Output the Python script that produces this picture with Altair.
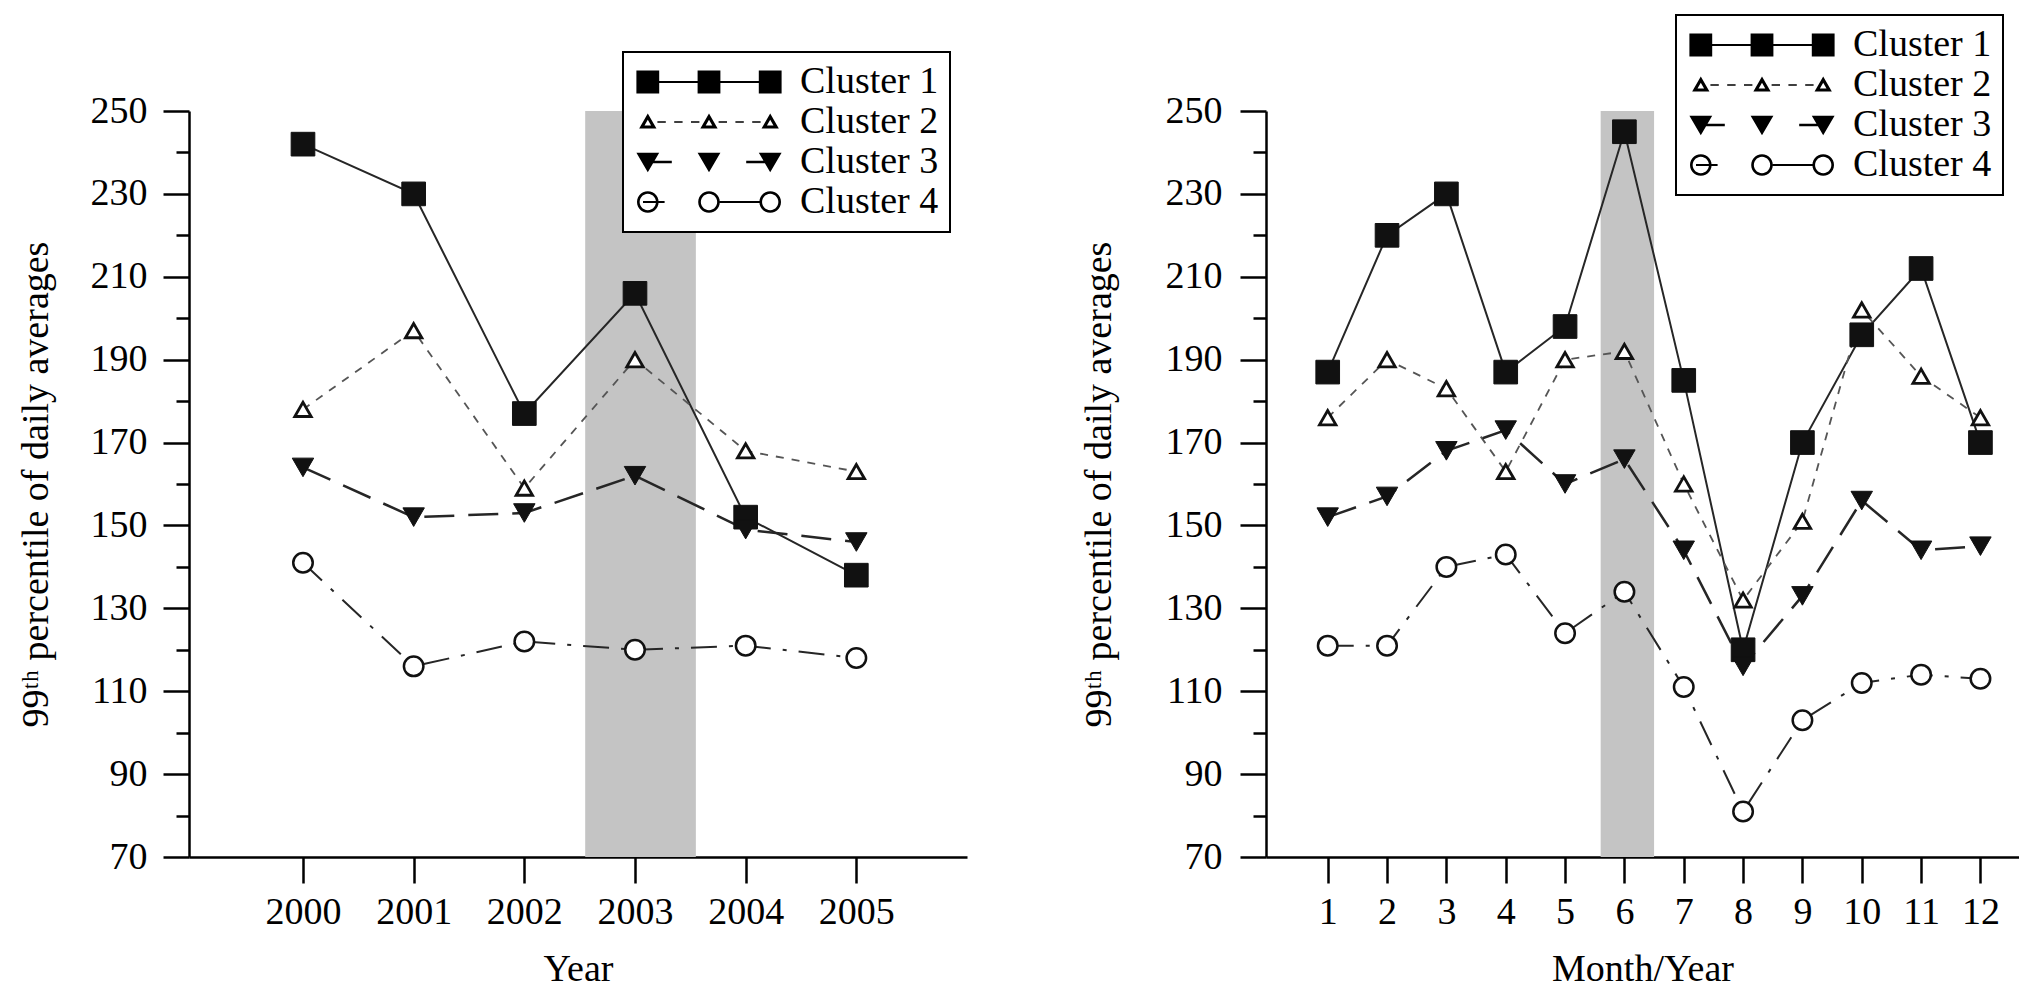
import math
import altair as alt
import pandas as pd

FONT = "Liberation Serif, Times New Roman, Tinos, Nimbus Roman, DejaVu Serif, serif"

# ---------------- data ----------------
clusters = ["Cluster 1", "Cluster 2", "Cluster 3", "Cluster 4"]

years = [2000, 2001, 2002, 2003, 2004, 2005]
year_c1 = [242, 230, 177, 206, 152, 138]
year_c2 = [178, 197, 159, 190, 168, 163]
year_c3 = [164, 152, 153, 162, 149, 146]
year_c4 = [141, 116, 122, 120, 121, 118]

months = [1, 2, 3, 4, 5, 6, 7, 8, 9, 10, 11, 12]
month_c1 = [187, 220, 230, 187, 198, 245, 185, 120, 170, 196, 212, 170]
month_c2 = [176, 190, 183, 163, 190, 192, 160, 132, 151, 202, 186, 176]
month_c3 = [152, 157, 168, 173, 160, 166, 144, 116, 133, 156, 144, 145]
month_c4 = [121, 121, 140, 143, 124, 134, 111, 81, 103, 112, 114, 113]

year_band = [2002.55, 2003.55]
month_band = [5.6, 6.5]
y_min, y_max = 70, 250
y_tick_values = list(range(70, 251, 10))

# ---------------- styles ----------------
line_styles = {
    "Cluster 1": dict(color="#262626", strokeWidth=2),
    "Cluster 2": dict(color="#555555", strokeWidth=1.8, strokeDash=[8, 8]),
    "Cluster 3": dict(color="#262626", strokeWidth=2.5, strokeDash=[30, 14]),
    "Cluster 4": dict(color="#262626", strokeWidth=2, strokeDash=[26, 12, 4, 12]),
}
point_styles = {
    "Cluster 1": dict(shape="square", size=560, filled=True, fill="#111111", stroke="#111111", strokeWidth=1),
    "Cluster 2": dict(shape="triangle-up", size=270, filled=True, fill="white", stroke="#111111", strokeWidth=2.8),
    "Cluster 3": dict(shape="triangle-down", size=460, filled=True, fill="#111111", stroke="#111111", strokeWidth=1),
    "Cluster 4": dict(shape="circle", size=380, filled=True, fill="white", stroke="#111111", strokeWidth=2.5),
}


# ---------------- legend glyphs (marker-line-marker-line-marker) ----------------
def fmt(v):
    return f"{v:.3f}".rstrip("0").rstrip(".")


def poly(pts):
    return "M" + "L".join(f"{fmt(x)},{fmt(y)}" for x, y in pts) + "Z"


def rect(x0, x1, h):
    return poly([(x0, -h), (x1, -h), (x1, h), (x0, h)])


def square(cx, r):
    return poly([(cx - r, -r), (cx + r, -r), (cx + r, r), (cx - r, r)])


def tri(cx, rel, hole=None):
    outer = [(cx + x, y) for x, y in rel]
    s = poly(outer)
    if hole:
        gx = sum(p[0] for p in outer) / 3
        gy = sum(p[1] for p in outer) / 3
        inner = [(gx + (x - gx) * hole, gy + (y - gy) * hole) for x, y in reversed(outer)]
        s += poly(inner)
    return s


def ring(cx, r, r_in, n=28):
    outer = [(cx + r * math.cos(2 * math.pi * k / n), r * math.sin(2 * math.pi * k / n)) for k in range(n)]
    inner = [(cx + r_in * math.cos(2 * math.pi * k / n), r_in * math.sin(2 * math.pi * k / n)) for k in range(n)][::-1]
    return poly(outer) + poly(inner)


C = [-5.1, 0.0, 5.1]
tri_up = [(0, -0.7), (0.72, 0.55), (-0.72, 0.55)]
tri_dn = [(-0.95, -0.78), (0.95, -0.78), (0, 0.85)]
legend_paths = [
    rect(-5.1, 5.1, 0.08) + "".join(square(c, 0.95) for c in C),
    "".join(tri(c, tri_up, 0.38) for c in C)
    + "".join(rect(a, b, 0.07) for a, b in [(-4.3, -3.6), (-2.9, -2.2), (-1.5, -0.8),
                                            (0.8, 1.5), (2.2, 2.9), (3.6, 4.3)]),
    "".join(tri(c, tri_dn) for c in C) + rect(-5.1, -3.1, 0.1) + rect(3.1, 5.1, 0.1),
    "".join(ring(c, 0.9, 0.68) for c in C) + rect(-5.5, -3.7, 0.08) + rect(0.9, 4.3, 0.08),
]


def axis_common(**kw):
    base = dict(
        domainColor="black", domainWidth=2.5, tickColor="black", tickWidth=2.5,
        labelFont=FONT, labelFontSize=38, labelColor="black",
        titleFont=FONT, titleFontSize=38, titleFontWeight="normal", titleColor="black",
        grid=False, labelFlush=False, labelOverlap=False,
    )
    base.update(kw)
    return alt.Axis(**base)


def panel(xs, series, band, xdomain, width, xtitle, label_pad_y, title_pad_y, legend_x, legend_y):
    rows = []
    for name, vals in zip(clusters, series):
        for x, v in zip(xs, vals):
            rows.append({"x": x, "v": v, "cluster": name})
    df = pd.DataFrame(rows)

    X = alt.X("x:Q", scale=alt.Scale(domain=xdomain, nice=False, zero=False),
              axis=axis_common(values=xs, format="d", title=xtitle, tickSize=26,
                               labelPadding=10, titlePadding=19))
    Y = alt.Y("v:Q", scale=alt.Scale(domain=[y_min, y_max], nice=False, zero=False),
              axis=axis_common(values=y_tick_values,
                               labelExpr="datum.value % 20 == 0 ? '' : datum.label",
                               tickSize={"condition": {"test": "datum.value % 20 == 0", "value": 13},
                                         "value": 26},
                               title="99ᵗʰ percentile of daily averages",
                               labelPadding=label_pad_y, titlePadding=title_pad_y))

    band_df = pd.DataFrame({"x": [band[0]], "x2": [band[1]], "v": [y_min], "v2": [y_max]})
    layers = [
        alt.Chart(band_df).mark_rect(color="#c4c4c4").encode(x=X, x2="x2:Q", y=Y, y2="v2:Q")
    ]
    for name in clusters:
        d = df[df.cluster == name]
        layers.append(alt.Chart(d).mark_line(**line_styles[name]).encode(x=X, y=Y))
    for name in clusters:
        d = df[df.cluster == name]
        layers.append(alt.Chart(d).mark_point(opacity=1, **point_styles[name]).encode(x=X, y=Y))

    legend = alt.Legend(
        title=None, orient="none", legendX=legend_x, legendY=legend_y, direction="vertical",
        padding=11, rowPadding=2, strokeColor="black", fillColor="white",
        symbolSize=576, symbolOffset=56, labelOffset=72, symbolOpacity=1,
        symbolStrokeWidth=0, symbolFillColor="black",
        labelFont=FONT, labelFontSize=38, labelColor="black", labelLimit=400,
    )
    # legend-only layer: no marks are drawn (filtered out), only the shape legend remains
    layers.append(
        alt.Chart(df).transform_filter("false")
        .mark_point(filled=True, color="black", opacity=0, size=576).encode(
            x=X, y=Y,
            shape=alt.Shape("cluster:N", scale=alt.Scale(domain=clusters, range=legend_paths),
                            legend=legend),
        )
    )
    return alt.layer(*layers).properties(width=width, height=746)


left = panel(years, [year_c1, year_c2, year_c3, year_c4], year_band, [1998.97, 2006], 778,
             "Year", 16, 35, 434, -59)
right = panel(months, [month_c1, month_c2, month_c3, month_c4], month_band, [-0.04, 12.65], 753,
              "Month/Year", 18, 47, 410, -96)

chart = (
    alt.hconcat(left, right, spacing=299, bounds="flush")
    .resolve_scale(x="independent", y="independent", shape="independent")
    .resolve_legend(shape="independent")
    .properties(padding={"left": 9, "top": 6, "right": 0, "bottom": 0}, background="white")
    .configure_view(strokeWidth=0)
    .configure_legend(strokeWidth=2)
)

chart.save("out.html", embed_options={"renderer": "svg", "actions": False})
